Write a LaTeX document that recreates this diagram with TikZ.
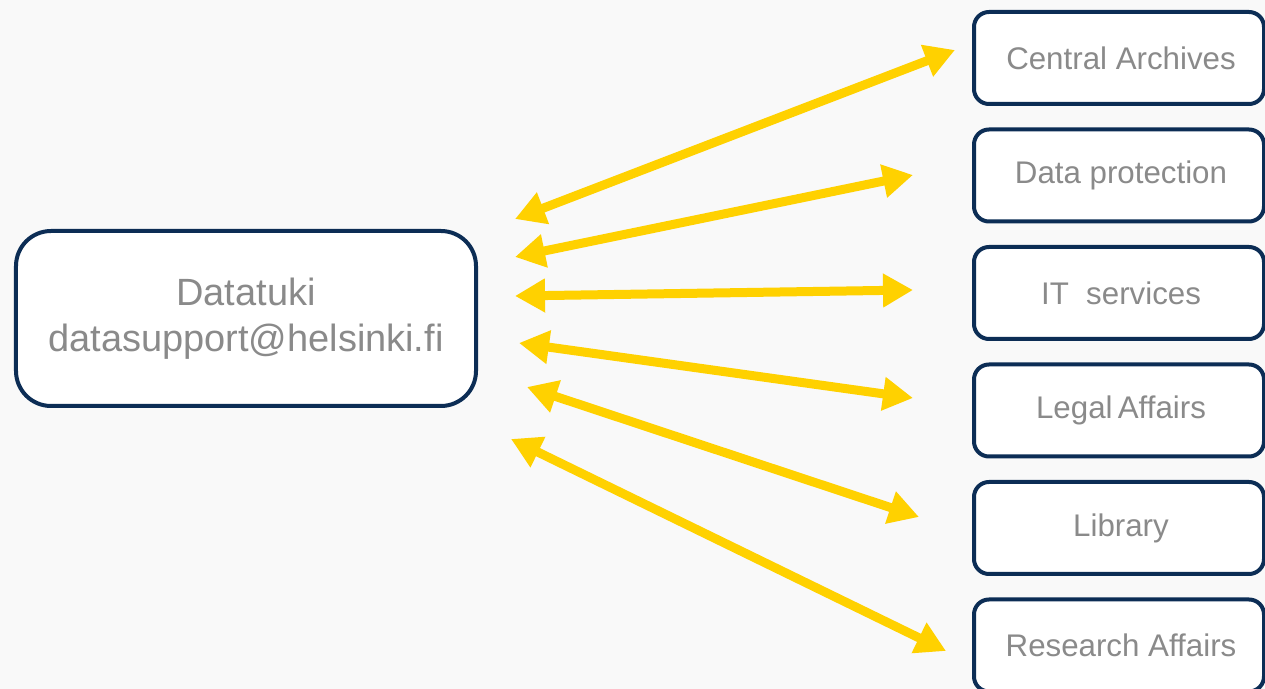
\documentclass[tikz,border=0pt]{standalone}
\usepackage{fontspec}
\setmainfont{Liberation Sans}
\usetikzlibrary{positioning,arrows.meta}

\definecolor{hyyellow}{HTML}{FFD100}
\definecolor{hynavy}{HTML}{0C2D55}
\definecolor{hygray}{HTML}{8A8A8A}
\definecolor{hybg}{HTML}{F9F9F9}

\tikzset{
	unitbox/.style={draw=hynavy, line width=0.08cm, fill=white, rounded corners=0.3cm,
		minimum width=5.8cm, minimum height=1.84cm, inner sep=0pt,
		text=hygray, font=\fontsize{17.8}{21}\selectfont},
	supportbox/.style={draw=hynavy, line width=0.08cm, fill=white, rounded corners=0.7cm,
		minimum width=9.2cm, minimum height=3.5cm, align=center,
		text=hygray, font=\fontsize{21.6}{26.2}\selectfont},
	link/.style={hyyellow, line width=0.18cm,
		{Triangle[length=0.6cm,width=0.64cm]}-{Triangle[length=0.6cm,width=0.64cm]}}
}

\begin{document}
\begin{tikzpicture}
			% Background
			\fill[hybg] (0,0) rectangle (25.3,-13.78);
			\useasboundingbox (0,0) rectangle (25.3,-13.78);

			% Boxes
			\node[supportbox] (datatuki) at (4.92,-6.37) {Datatuki\\datasupport@helsinki.fi};
			\node[unitbox] (archives) at (22.38,-1.16) {\hspace{0.08cm}Central Archives};
			\node[unitbox, below=0.43cm of archives] (protection) {\hspace{0.08cm}Data protection};
			\node[unitbox, below=0.43cm of protection] (itserv) {\hspace{0.08cm}IT\ \ services};
			\node[unitbox, below=0.43cm of itserv] (legal) {\hspace{0.08cm}Legal\,Affairs};
			\node[unitbox, below=0.43cm of legal] (library) {\hspace{0.08cm}Library};
			\node[unitbox, below=0.43cm of library] (research) {\hspace{0.08cm}Research Affairs};

			% Arrow ends
			\coordinate (archL) at (10.30,-4.38);
			\coordinate (archR) at (19.10,-1.00);
			\coordinate (protL) at (10.30,-5.14);
			\coordinate (protR) at (18.26,-3.50);
			\coordinate (itL) at (10.30,-5.92);
			\coordinate (itR) at (18.26,-5.80);
			\coordinate (legL) at (10.38,-6.86);
			\coordinate (legR) at (18.26,-7.96);
			\coordinate (libL) at (10.54,-7.74);
			\coordinate (libR) at (18.38,-10.34);
			\coordinate (resL) at (10.22,-8.78);
			\coordinate (resR) at (18.92,-13.02);

			% Draw the arrows
			\draw[link] (archL) -- (archR);
			\draw[link] (protL) -- (protR);
			\draw[link] (itL) -- (itR);
			\draw[link] (legL) -- (legR);
			\draw[link] (libL) -- (libR);
			\draw[link] (resL) -- (resR);

		\end{tikzpicture}
\end{document}
